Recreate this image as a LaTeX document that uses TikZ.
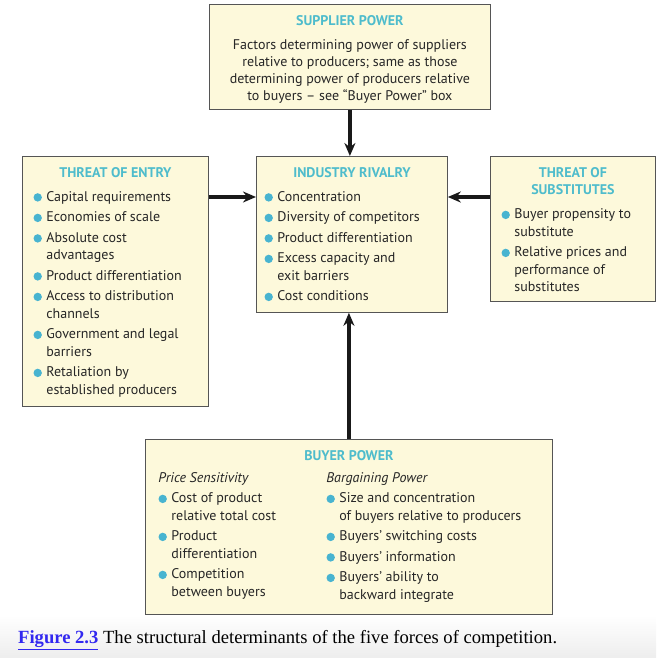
\documentclass[tikz,border=0pt]{standalone}
\usepackage{fontspec}
\setmainfont{PT Sans}
\newfontfamily\capfont{Liberation Serif}
\usetikzlibrary{positioning,arrows.meta}
\definecolor{boxfill}{RGB}{253,249,219}
\definecolor{boxline}{RGB}{85,85,85}
\definecolor{headcol}{RGB}{78,188,204}
\definecolor{bulletcol}{RGB}{72,180,208}
\definecolor{bodytxt}{RGB}{38,38,38}
\definecolor{linkblue}{RGB}{50,40,240}
\tikzstyle{force}=[draw=boxline, fill=boxfill, line width=0.8pt, anchor=north west, inner ysep=0pt, text=bodytxt, font=\fontsize{14}{17.5}\selectfont]
\tikzstyle{push}=[line width=3.2pt, draw=black!90, -{Stealth[length=13pt,width=11pt]}]
\newcommand{\heading}[1]{\makebox[\linewidth]{\color{headcol}\bfseries #1}\par\vspace{3.5pt}}
\newcommand{\blt}{\tikz[baseline=-4pt]\fill[bulletcol] (0,0) circle (4.2pt);}
\newcommand{\itm}{\par\vspace{3pt}\hangindent=13pt\hangafter=1\noindent\makebox[13pt][l]{\hspace*{0.1pt}\blt}}

\begin{document}
\begin{tikzpicture}[x=1pt, y=-1pt]
	\useasboundingbox (0,0) rectangle (656,658);
	\fill[white] (0,0) rectangle (656,658);
	\shade[top color=white, bottom color=black!7] (0,615) rectangle (656,658);

	\node[force, inner xsep=8pt] (supplier) at (209,4) {\parbox[c][105pt][t]{265pt}{\centering\fontsize{14}{17}\selectfont\vspace*{11pt}%
		{\color{headcol}\bfseries SUPPLIER POWER}\par\vspace{7pt}
		Factors determining power of suppliers\\ relative to producers; same as those\\ determining power of producers relative\\ to buyers -- see “Buyer Power” box}};

	\node[force, inner xsep=11pt] (entry) at (22,156) {\parbox[c][250pt][t]{164pt}{\raggedright\vspace*{11pt}%
		\heading{THREAT OF ENTRY}
		\itm Capital requirements
		\itm Economies of scale
		\itm Absolute cost\newline advantages
		\itm Product differentiation
		\itm Access to distribution\newline channels
		\itm Government and legal\newline barriers
		\itm Retaliation by\newline established producers}};

	\node[force, inner xsep=8pt] (rivalry) at (256,156) {\parbox[c][156pt][t]{175pt}{\raggedright\vspace*{11pt}%
		\heading{INDUSTRY RIVALRY}
		\itm Concentration
		\itm Diversity of competitors
		\itm Product differentiation
		\itm Excess capacity and\newline exit barriers
		\itm Cost conditions}};

	\node[force, inner xsep=11pt] (substitutes) at (490,156) {\parbox[c][145pt][t]{143pt}{\raggedright\vspace*{11pt}%
		\makebox[\linewidth]{\color{headcol}\bfseries THREAT OF}\par
		\heading{SUBSTITUTES}
		\itm Buyer propensity to\newline substitute
		\itm Relative prices and\newline performance of\newline substitutes}};

	\node[force, inner xsep=13pt] (buyer) at (145,439) {\parbox[c][175pt][t]{381pt}{\raggedright\vspace*{11pt}%
		\heading{BUYER POWER}\vspace{1pt}
		\noindent\parbox[t]{168pt}{\raggedright\itshape Price Sensitivity\upshape
			\itm Cost of  product\newline relative total cost
			\itm Product\newline differentiation
			\itm Competition\newline between buyers}%
		\parbox[t]{213pt}{\raggedright\itshape Bargaining Power\upshape
			\itm Size and concentration\newline of buyers relative to  producers
			\itm Buyers’ switching costs
			\itm Buyers’ information
			\itm Buyers’ ability to\newline backward integrate}}};

	\node[anchor=west, inner sep=0pt, font=\capfont\fontsize{18.6}{22}\selectfont] (caption) at (18,640)
		{\textcolor{linkblue}{\bfseries\underline{Figure 2.3}} The structural determinants of the five forces of competition.};

	% forces acting on rivalry
	\draw[push] (supplier.south) -- (supplier.south |- rivalry.north);
	\draw[push] ([yshift=-41pt]entry.north east) -- ([yshift=-41pt]rivalry.north west);
	\draw[push] ([yshift=-41pt]substitutes.north west) -- ([yshift=-41pt]rivalry.north east);
	\draw[push] (buyer.north) -- (buyer.north |- rivalry.south);
\end{tikzpicture}
\end{document}
